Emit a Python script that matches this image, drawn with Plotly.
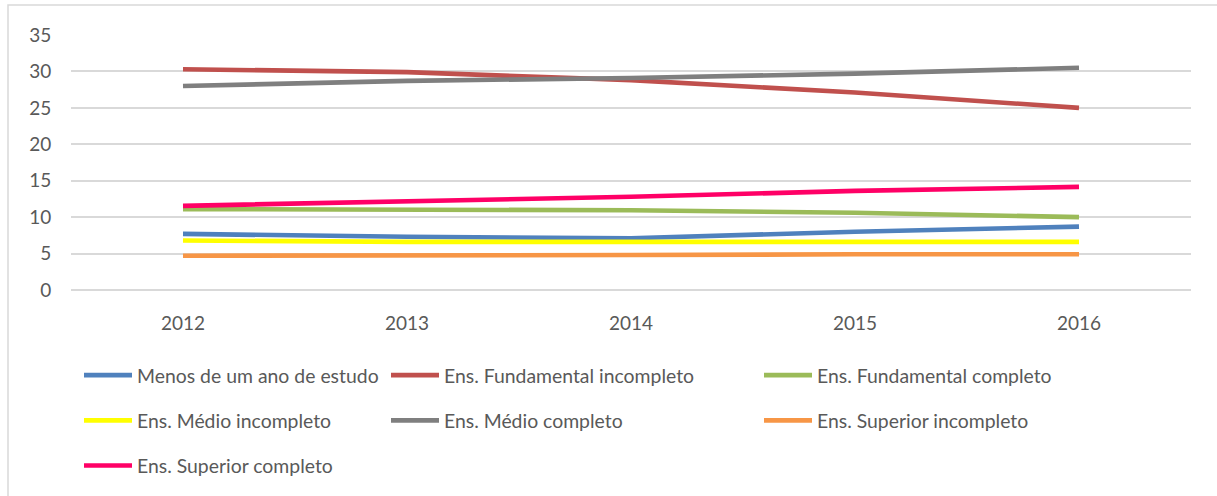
import plotly.graph_objects as go

years = ["2012", "2013", "2014", "2015", "2016"]
series_names = [
    "Menos de um ano de estudo",
    "Ens. Fundamental incompleto",
    "Ens. Fundamental completo",
    "Ens. Médio incompleto",
    "Ens. Médio completo",
    "Ens. Superior incompleto",
    "Ens. Superior completo",
]
menos_um_ano = [7.7, 7.3, 7.1, 8.0, 8.7]
fund_incompleto = [30.3, 29.9, 28.8, 27.1, 25.0]
fund_completo = [11.1, 11.1, 10.95, 10.6, 10.0]
medio_incompleto = [6.8, 6.6, 6.6, 6.6, 6.6]
medio_completo = [28.0, 28.7, 29.1, 29.7, 30.5]
sup_incompleto = [4.7, 4.7, 4.8, 4.9, 4.9]
sup_completo = [11.55, 12.1, 12.8, 13.6, 14.15]
y_ticks = [0, 5, 10, 15, 20, 25, 30, 35]

values = [menos_um_ano, fund_incompleto, fund_completo, medio_incompleto,
          medio_completo, sup_incompleto, sup_completo]
colors = ["#4F81BD", "#C0504D", "#9BBB59", "#FFFF00", "#7F7F7F", "#F79646", "#FF0066"]
legend_of = ["legend", "legend2", "legend3", "legend", "legend2", "legend3", "legend"]

FONT = "Lato"
TXT = "#595959"

fig = go.Figure()
for i, (name, vals) in enumerate(zip(series_names, values)):
    fig.add_trace(go.Scatter(
        x=years, y=vals, name=name, mode="lines",
        line=dict(color=colors[i], width=4.6),
        legend=legend_of[i], legendgroup=f"g{i}",
    ))

W, H = 1217, 496
L, R, T, B = 71, 26, 35, 206
pw, ph = W - L - R, H - T - B

def px_x(x):
    return (x - L) / pw

def px_y(y):
    return (H - B - y) / ph

leg_common = dict(
    orientation="v", xanchor="left", yanchor="top",
    font=dict(family=FONT, size=19.4, color=TXT),
    bgcolor="rgba(0,0,0,0)", borderwidth=0,
    tracegroupgap=17, itemwidth=48,
)

fig.update_layout(
    width=W, height=H,
    margin=dict(l=L, r=R, t=T, b=B, autoexpand=False),
    paper_bgcolor="white", plot_bgcolor="white",
    font=dict(family=FONT, size=19, color=TXT),
    xaxis=dict(
        type="category", showgrid=False, zeroline=False, showline=False,
        ticks="outside", ticklen=16, tickcolor="rgba(0,0,0,0)",
        tickfont=dict(family=FONT, size=19, color=TXT),
        range=[-0.5, 4.5],
    ),
    yaxis=dict(
        range=[0, 35], tickvals=y_ticks, showgrid=True,
        gridcolor="#D9D9D9", gridwidth=1.5,
        zeroline=True, zerolinecolor="#D9D9D9", zerolinewidth=1.5,
        showline=False, ticks="outside", ticklen=15, tickcolor="rgba(0,0,0,0)",
        tickfont=dict(family=FONT, size=19, color=TXT),
    ),
    legend=dict(x=px_x(79), y=px_y(356), **leg_common),
    legend2=dict(x=px_x(386), y=px_y(356), **leg_common),
    legend3=dict(x=px_x(759), y=px_y(356), **leg_common),
    shapes=[dict(
        type="rect", xref="paper", yref="paper",
        x0=px_x(8), x1=px_x(W + 20), y0=px_y(H + 20), y1=px_y(5),
        line=dict(color="#D9D9D9", width=1.5), fillcolor="rgba(0,0,0,0)",
        layer="below",
    )],
)

fig.write_html("out.html", config={"displayModeBar": False},
               post_script="document.body.style.margin='0';")
